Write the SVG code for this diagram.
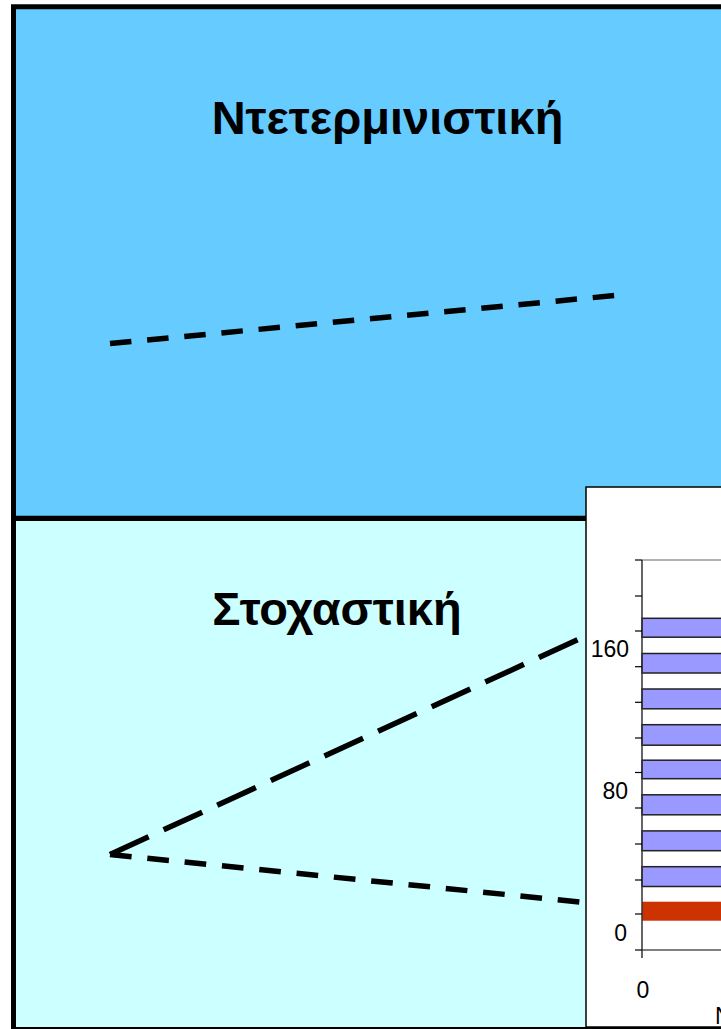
<svg xmlns="http://www.w3.org/2000/svg" width="721" height="1029" viewBox="0 0 721 1029">
  <style>
    .title { font-family: "Liberation Sans", Arial, sans-serif; font-weight: bold; font-size: 47px; fill: #000; }
    .lbl { font-family: "Liberation Sans", Arial, sans-serif; font-size: 23px; fill: #000; }
    .bar { fill: #9999FF; stroke: #222; stroke-width: 1.5; }
    .tick { stroke: #000; stroke-width: 1.2; }
    .dash { fill: none; stroke: #000; stroke-width: 5.5; stroke-linecap: butt; }
  </style>
  <rect width="721" height="1029" fill="#ffffff"/>
  <g id="deterministic">
    <rect x="13.5" y="6.75" width="720" height="511.5" fill="#66CCFF" stroke="#000" stroke-width="5"/>
    <text class="title" x="387.5" y="133.5" text-anchor="middle">Ντετερμινιστική</text>
  </g>
  <g id="stochastic">
    <rect x="13.5" y="518.5" width="720" height="511" fill="#CCFFFF" stroke="#000" stroke-width="5"/>
    <text class="title" x="337" y="624.5" text-anchor="middle">Στοχαστική</text>
  </g>
  <g id="chart">
    <rect x="586" y="487" width="140" height="540" fill="#ffffff" stroke="#000" stroke-width="1.5"/>
    <line x1="642" y1="560" x2="721" y2="560" stroke="#999" stroke-width="1.5"/>
    <rect class="bar" x="642" y="618.3" width="85" height="18.9"/>
    <rect class="bar" x="642" y="653.5" width="85" height="19.5"/>
    <rect class="bar" x="642" y="689" width="85" height="19.8"/>
    <rect class="bar" x="642" y="724.7" width="85" height="20.5"/>
    <rect class="bar" x="642" y="760.2" width="85" height="18.5"/>
    <rect class="bar" x="642" y="794.8" width="85" height="20"/>
    <rect class="bar" x="642" y="830.9" width="85" height="19.8"/>
    <rect class="bar" x="642" y="866.7" width="85" height="19.8"/>
    <rect x="642" y="901.7" width="85" height="19" fill="#CC3300"/>
    <line x1="642" y1="950" x2="721" y2="950" stroke="#555" stroke-width="1.5"/>
    <line x1="642" y1="560" x2="642" y2="958" stroke="#333" stroke-width="1.5"/>
    <g class="tick">
      <line x1="635" y1="560" x2="642" y2="560"/>
      <line x1="635" y1="596" x2="642" y2="596"/>
      <line x1="635" y1="631" x2="642" y2="631"/>
      <line x1="635" y1="666.7" x2="642" y2="666.7"/>
      <line x1="635" y1="702.3" x2="642" y2="702.3"/>
      <line x1="635" y1="738" x2="642" y2="738"/>
      <line x1="635" y1="772.5" x2="642" y2="772.5"/>
      <line x1="635" y1="808" x2="642" y2="808"/>
      <line x1="635" y1="844" x2="642" y2="844"/>
      <line x1="635" y1="880" x2="642" y2="880"/>
      <line x1="635" y1="914" x2="642" y2="914"/>
      <line x1="635" y1="950" x2="642" y2="950"/>
    </g>
    <text class="lbl" x="629" y="656.5" text-anchor="end">160</text>
    <text class="lbl" x="628" y="798.5" text-anchor="end">80</text>
    <text class="lbl" x="627" y="940.5" text-anchor="end">0</text>
    <text class="lbl" x="643" y="997.5" text-anchor="middle">0</text>
    <text class="lbl" x="715" y="1024">N</text>
  </g>
  <g id="connectors">
    <line class="dash" x1="110" y1="343.5" x2="615" y2="295.5" stroke-dasharray="21.5 15.8"/>
    <line class="dash" x1="110" y1="854.5" x2="578" y2="639.5" stroke-dasharray="42.5 16.5"/>
    <line class="dash" x1="110" y1="854.5" x2="580" y2="902" stroke-dasharray="21.7 15.8"/>
  </g>
</svg>
